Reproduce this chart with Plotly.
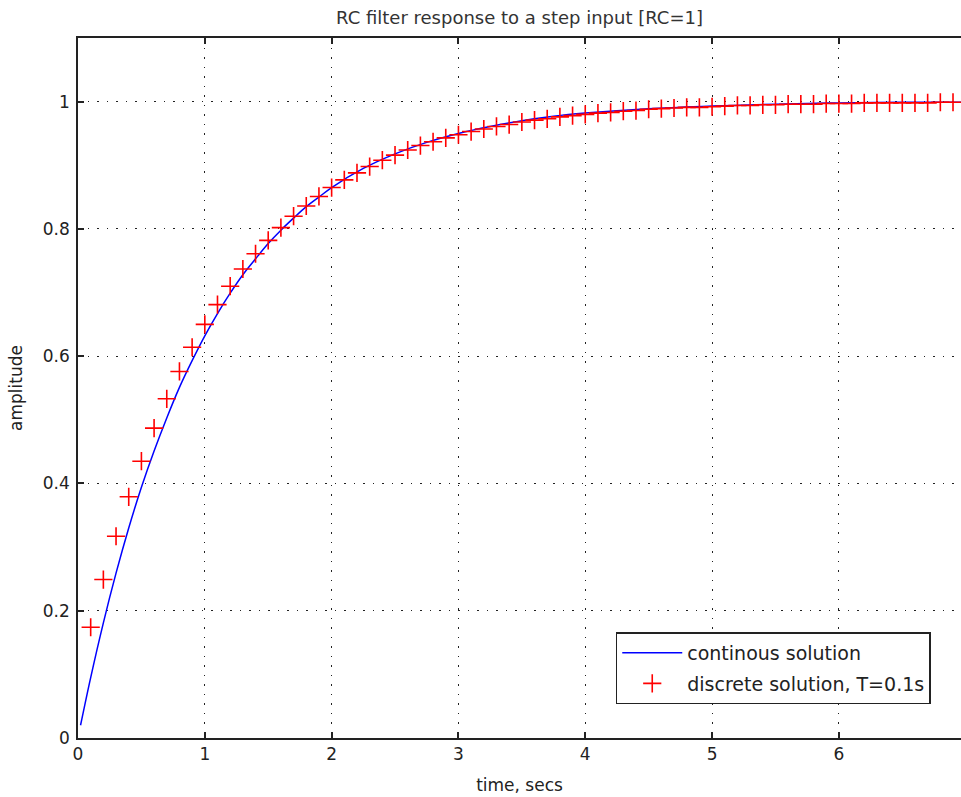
import plotly.graph_objects as go

# Continuous solution (RC = 1)
t_cont = [0.02, 0.1, 0.2, 0.3, 0.4, 0.5, 0.6, 0.7, 0.8, 0.9, 1.0, 1.1, 1.2, 1.3, 1.4,
          1.5, 1.6, 1.7, 1.8, 1.9, 2.0, 2.25, 2.5, 2.75, 3.0, 3.25, 3.5, 3.75, 4.0,
          4.5, 5.0, 5.5, 6.0, 6.5, 7.0]
y_cont = [0.020, 0.095, 0.181, 0.259, 0.330, 0.394, 0.451, 0.503, 0.551, 0.593, 0.632,
          0.667, 0.699, 0.728, 0.753, 0.777, 0.798, 0.817, 0.835, 0.850, 0.865, 0.895,
          0.918, 0.936, 0.950, 0.961, 0.970, 0.977, 0.982, 0.989, 0.993, 0.996, 0.998,
          0.999, 0.999]

# Discrete solution, T = 0.1 s
t_disc = [0.1, 0.2, 0.3, 0.4, 0.5, 0.6, 0.7, 0.8, 0.9, 1.0,
          1.1, 1.2, 1.3, 1.4, 1.5, 1.6, 1.7, 1.8, 1.9, 2.0,
          2.1, 2.2, 2.3, 2.4, 2.5, 2.6, 2.7, 2.8, 2.9, 3.0,
          3.1, 3.2, 3.3, 3.4, 3.5, 3.6, 3.7, 3.8, 3.9, 4.0,
          4.1, 4.2, 4.3, 4.4, 4.5, 4.6, 4.7, 4.8, 4.9, 5.0,
          5.1, 5.2, 5.3, 5.4, 5.5, 5.6, 5.7, 5.8, 5.9, 6.0,
          6.1, 6.2, 6.3, 6.4, 6.5, 6.6, 6.7, 6.8, 6.9]
y_disc = [0.174, 0.249, 0.317, 0.379, 0.435, 0.487, 0.533, 0.576, 0.614, 0.650,
          0.681, 0.710, 0.737, 0.761, 0.782, 0.802, 0.820, 0.836, 0.851, 0.865,
          0.877, 0.888, 0.898, 0.908, 0.916, 0.924, 0.931, 0.937, 0.943, 0.948,
          0.953, 0.957, 0.961, 0.964, 0.968, 0.971, 0.973, 0.976, 0.978, 0.980,
          0.982, 0.983, 0.985, 0.986, 0.988, 0.989, 0.990, 0.991, 0.991, 0.992,
          0.993, 0.994, 0.994, 0.995, 0.995, 0.996, 0.996, 0.996, 0.997, 0.997,
          0.997, 0.998, 0.998, 0.998, 0.998, 0.998, 0.998, 0.999, 0.999]

x_ticks = [0, 1, 2, 3, 4, 5, 6]
x_ticklabels = ["0", "1", "2", "3", "4", "5", "6"]
y_ticks = [0, 0.2, 0.4, 0.6, 0.8, 1]
y_ticklabels = ["0", "0.2", "0.4", "0.6", "0.8", "1"]

FONT = "DejaVu Sans"
INK = "#222222"

fig = go.Figure()
fig.add_trace(go.Scatter(
    x=t_cont, y=y_cont, mode="lines", name="continous solution", legendgroup="c",
    line=dict(color="#0000ff", width=1.5), line_shape="spline"))
fig.add_trace(go.Scatter(
    x=t_disc, y=y_disc, mode="markers", name="discrete solution, T=0.1s", legendgroup="d",
    marker=dict(symbol="cross-thin", size=13, color="#ff0000",
                line=dict(color="#ff0000", width=1.6))))

axis_common = dict(
    showline=True, linecolor=INK, linewidth=1.5,
    ticks="inside", ticklen=6, tickcolor=INK, tickwidth=1.5,
    showgrid=True, gridcolor=INK, gridwidth=1.3, griddash="1.5px,8px",
    zeroline=False, tickfont=dict(family=FONT, size=17, color=INK),
)

fig.update_layout(
    width=961, height=797,
    margin=dict(l=78, r=0, t=38, b=59),
    paper_bgcolor="white", plot_bgcolor="white",
    title=dict(text="RC filter response to a step input [RC=1]",
               x=0.5406, xanchor="center", y=0.978, yanchor="middle",
               font=dict(family=FONT, size=18, color="#333333")),
    xaxis=dict(range=[0, 6.963], tickvals=x_ticks, ticktext=x_ticklabels,
               mirror="ticks",
               title=dict(text="time, secs", font=dict(family=FONT, size=17, color=INK),
                          standoff=16),
               **axis_common),
    yaxis=dict(range=[0, 1.1], tickvals=y_ticks, ticktext=y_ticklabels,
               mirror=False, ticklabelstandoff=3,
               title=dict(text="amplitude", font=dict(family=FONT, size=17, color=INK),
                          standoff=16),
               **axis_common),
    legend=dict(x=0.609, y=0.151, xanchor="left", yanchor="top",
                bgcolor="white", bordercolor=INK, borderwidth=1.5,
                font=dict(family=FONT, size=19, color=INK),
                itemwidth=60, tracegroupgap=3, traceorder="grouped"),
    showlegend=True,
)

fig.write_html("out.html", config={"displayModeBar": False},
               post_script="document.body.style.margin='0';document.body.style.overflow='hidden';")
